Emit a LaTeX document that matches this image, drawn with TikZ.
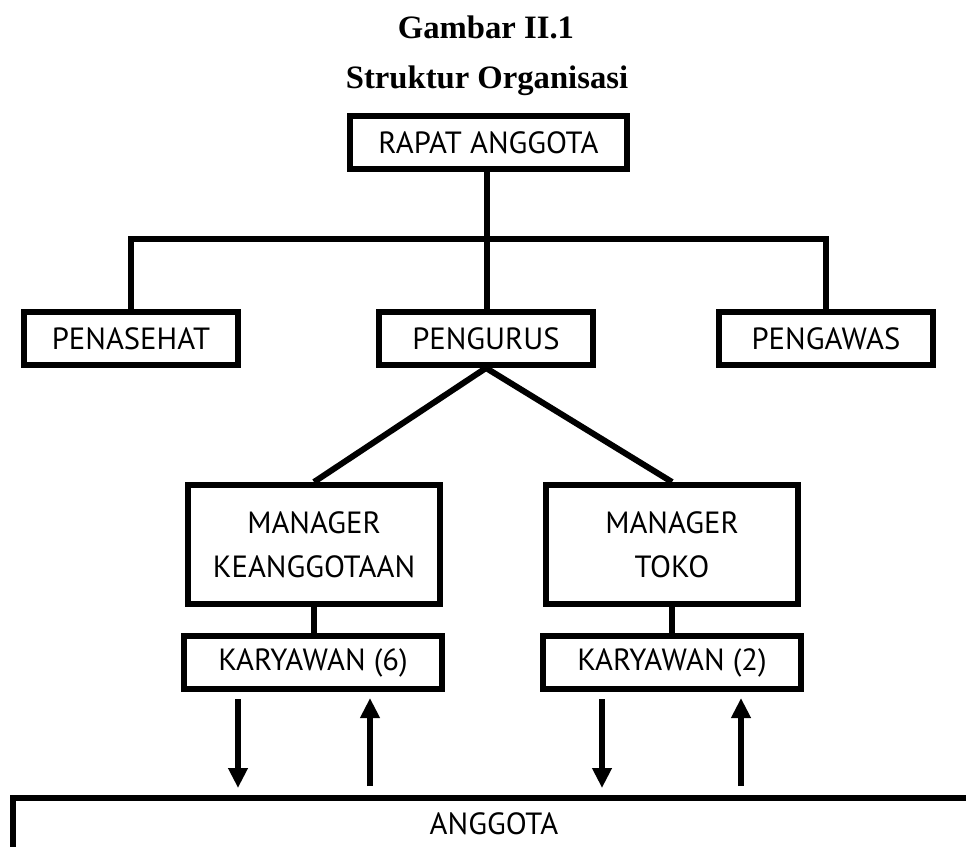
\documentclass[tikz,border=0pt]{standalone}
\usepackage{fontspec}
\setmainfont{Liberation Serif}
\newfontfamily\boxfont{PT Sans}
\usetikzlibrary{arrows.meta}
\begin{document}
\begin{tikzpicture}[x=0.75pt,y=-0.75pt,
  thick line/.style={line width=4.5pt,line join=miter,line cap=rect},
  orgbox/.style={draw,line width=4.5pt,rectangle,inner sep=0pt,align=center,
     font=\boxfont\fontsize{23}{33}\selectfont},
  titletext/.style={font=\bfseries\fontsize{24.5}{28}\selectfont,anchor=base,inner sep=0pt},
  flow/.style={line width=4.5pt,-{Triangle[width=14pt,length=15pt]}}]
\useasboundingbox (0,0) rectangle (966,846);
\clip (0,0) rectangle (966,846);
% titles
\node[titletext] (title1) at (486,38) {Gambar II.1};
\node[titletext] (title2) at (487,88) {Struktur Organisasi};
% boxes
\node[orgbox,minimum width=207.75pt,minimum height=39.75pt] (rapat) at (488.5,142.5) {RAPAT ANGGOTA};
\node[orgbox,minimum width=160.5pt,minimum height=39.75pt] (penasehat) at (131,338.5) {PENASEHAT};
\node[orgbox,minimum width=160.5pt,minimum height=39.75pt] (pengurus) at (486,338.5) {PENGURUS};
\node[orgbox,minimum width=160.5pt,minimum height=39.75pt] (pengawas) at (826,338.5) {PENGAWAS};
\node[orgbox,minimum width=189pt,minimum height=89.25pt] (mk) at (314,544.5) {MANAGER\\KEANGGOTAAN};
\node[orgbox,minimum width=189pt,minimum height=89.25pt] (mt) at (672,544.5) {MANAGER\\TOKO};
\node[orgbox,minimum width=193.5pt,minimum height=39.75pt] (k6) at (313,662.5) {KARYAWAN (6)};
\node[orgbox,minimum width=193.5pt,minimum height=39.75pt] (k2) at (672,662.5) {KARYAWAN (2)};
\node[orgbox,minimum width=721.5pt,minimum height=39pt] (anggota) at (494,824) {ANGGOTA};
% connectors
\coordinate (barmid) at (487,239);
\draw[line width=4.5pt] (rapat.south -| barmid) -- (pengurus.north -| barmid);
\draw[thick line,line cap=butt] (penasehat.north) |- (barmid) -| (pengawas.north);
\draw[line width=4.5pt,line join=miter] (mk.north) -- (pengurus.south) -- (mt.north);
\draw[line width=4.5pt] (mk.south) -- (k6.north -| mk.south);
\draw[line width=4.5pt] (mt.south) -- (k2.north -| mt.south);
% arrows
\coordinate (d1s) at (238,699); \coordinate (d1e) at (238,788);
\coordinate (u1s) at (370,786); \coordinate (u1e) at (370,698);
\coordinate (d2s) at (602,699); \coordinate (d2e) at (602,788);
\coordinate (u2s) at (741,786); \coordinate (u2e) at (741,698);
\draw[flow] (d1s) -- (d1e);
\draw[flow] (u1s) -- (u1e);
\draw[flow] (d2s) -- (d2e);
\draw[flow] (u2s) -- (u2e);
\end{tikzpicture}
\end{document}
